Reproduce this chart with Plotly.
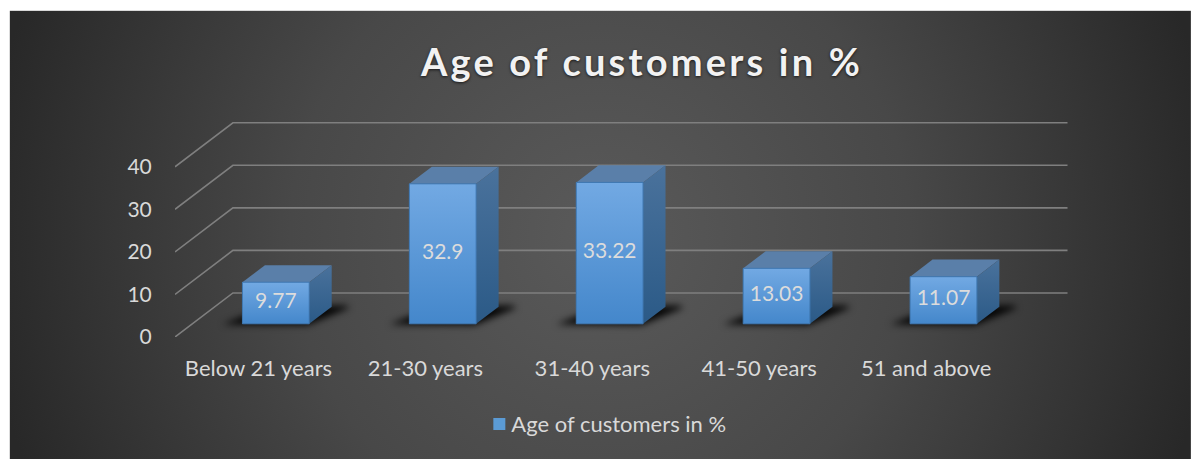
import base64
import plotly.graph_objects as go

# Chart data
categories = ["Below 21 years", "21-30 years", "31-40 years", "41-50 years", "51 and above"]
values = [9.77, 32.9, 33.22, 13.03, 11.07]
value_labels = ["9.77", "32.9", "33.22", "13.03", "11.07"]
y_ticks = [0, 10, 20, 30, 40]
series_name = "Age of customers in %"

# Oblique projection: how far a full floor depth moves a point, in axis units
DEPTH_X = 0.347
DEPTH_Y = 10.35
BAR_HALF = 0.2
BAR_FRONT = 0.30
BAR_BACK = 0.688

FONT = "Lato, 'Open Sans', sans-serif"
TEXT = "#d9d9d9"
W, H = 1191, 459
# The plot area also holds the receding wall, hence the extended axis ranges
X_RANGE = [-0.5, 4.85]
Y_RANGE = [0, 51]
LEFT, RIGHT, TOP, BOTTOM = 174.5, 1068, 120.25, 337


def project(x, v, d):
    return x + d * DEPTH_X, v + d * DEPTH_Y


def polygon(points, line=None, **kw):
    pts = [project(*p) for p in points] + [project(*points[0])]
    return go.Scatter(
        x=[p[0] for p in pts], y=[p[1] for p in pts], mode="lines",
        line=line or dict(width=0), fill="toself", cliponaxis=False,
        showlegend=False, hoverinfo="skip", **kw,
    )


fig = go.Figure()

# Front faces, carrying the series in the legend
fig.add_trace(go.Bar(
    x=[i + BAR_FRONT * DEPTH_X for i in range(len(values))],
    y=values,
    base=[BAR_FRONT * DEPTH_Y] * len(values),
    width=BAR_HALF * 2,
    name=series_name,
    marker=dict(color="#5b9bd5", line=dict(width=0)),
    cliponaxis=False,
    hoverinfo="skip",
))

# Wall and side gridlines
for t in y_ticks:
    a = project(-0.5, t, 0)
    b = project(-0.5, t, 1)
    c = project(4.5, t, 1)
    fig.add_trace(go.Scatter(
        x=[a[0], b[0], c[0]], y=[a[1], b[1], c[1]], mode="lines",
        line=dict(color="#7f7f7f", width=1.6), cliponaxis=False,
        showlegend=False, hoverinfo="skip",
    ))

# Floor shadows; the page script below softens their edges
for i in range(len(values)):
    l, r = i - BAR_HALF, i + BAR_HALF
    fig.add_trace(polygon(
        [(l - 0.115, 0, BAR_FRONT - 0.01),
         (r, 0, BAR_FRONT - 0.03),
         (r + 0.115, 0, BAR_BACK - 0.02),
         (r + 0.07, 0, BAR_BACK + 0.03),
         (l + 0.02, 0, BAR_BACK),
         (l - 0.055, 0, BAR_FRONT + 0.16)],
        fillcolor="rgba(0,0,0,0.95)",
    ))

# Three visible faces of each box
for i, v in enumerate(values):
    l, r = i - BAR_HALF, i + BAR_HALF
    fig.add_trace(polygon(
        [(l, v, BAR_FRONT), (r, v, BAR_FRONT), (r, v, BAR_BACK), (l, v, BAR_BACK)],
        fillcolor="#5a7fa9",
    ))
    fig.add_trace(polygon(
        [(r, 0, BAR_FRONT), (r, v, BAR_FRONT), (r, v, BAR_BACK), (r, 0, BAR_BACK)],
        fillgradient=dict(type="vertical",
                          colorscale=[[0, "#2b5a87"], [1, "#4a729c"]]),
    ))
    fig.add_trace(polygon(
        [(l, 0, BAR_FRONT), (r, 0, BAR_FRONT), (r, v, BAR_FRONT), (l, v, BAR_FRONT)],
        line=dict(color="#3f77b0", width=1),
        fillgradient=dict(type="vertical",
                          colorscale=[[0, "#4487cb"], [1, "#72a9e3"]]),
    ))

# Value labels at the middle of each front face
fig.add_trace(go.Scatter(
    x=[i + BAR_FRONT * DEPTH_X for i in range(len(values))],
    y=[BAR_FRONT * DEPTH_Y + v / 2 for v in values],
    mode="text", text=value_labels,
    textfont=dict(family=FONT, size=21, color="#dcdcdc"),
    textposition="middle center", cliponaxis=False,
    showlegend=False, hoverinfo="skip",
))

# Dark radial backdrop below the plot
bw, bh = W - 9, H - 11
svg = (
    f'<svg xmlns="http://www.w3.org/2000/svg" width="{bw}" height="{bh}" '
    f'viewBox="0 0 {bw} {bh}"><defs><radialGradient id="g" gradientUnits="userSpaceOnUse" '
    f'cx="{bw * 0.5}" cy="{bh * 0.5}" r="620">'
    '<stop offset="0" stop-color="#5a5a5a"/><stop offset="0.5" stop-color="#484848"/>'
    '<stop offset="1" stop-color="#282828"/></radialGradient></defs>'
    f'<rect width="{bw}" height="{bh}" fill="url(#g)"/></svg>'
)
backdrop = "data:image/svg+xml;base64," + base64.b64encode(svg.encode()).decode()
plot_w, plot_h = RIGHT - LEFT, BOTTOM - TOP

fig.update_layout(
    width=W, height=H, autosize=False,
    margin=dict(l=LEFT, r=W - RIGHT, t=TOP, b=H - BOTTOM, pad=0),
    paper_bgcolor="white", plot_bgcolor="rgba(0,0,0,0)",
    font=dict(family=FONT, color=TEXT, size=20),
    title=dict(
        text=series_name, x=642 / W, xanchor="center", y=1 - 63 / H, yanchor="middle",
        font=dict(family=FONT, size=38, color="#f2f2f2", weight=700,
                  shadow="0px 1px 3px rgba(0,0,0,0.7)"),
    ),
    images=[dict(
        source=backdrop, xref="paper", yref="paper", layer="below",
        x=(9 - LEFT) / plot_w, y=(BOTTOM - 11) / plot_h,
        sizex=bw / plot_w, sizey=bh / plot_h,
        xanchor="left", yanchor="top", sizing="stretch",
    )],
    xaxis=dict(
        range=X_RANGE, tickvals=list(range(len(categories))), ticktext=categories,
        showgrid=False, zeroline=False, showline=False,
        ticks="outside", ticklen=12, tickcolor="rgba(0,0,0,0)",
        tickfont=dict(family=FONT, size=22, color=TEXT),
    ),
    yaxis=dict(
        range=Y_RANGE, tickvals=y_ticks, showgrid=False, zeroline=False, showline=False,
        ticks="outside", ticklen=18, tickcolor="rgba(0,0,0,0)",
        tickfont=dict(family=FONT, size=21, color=TEXT),
    ),
    legend=dict(
        orientation="h", x=(471 - LEFT) / plot_w, xanchor="left",
        y=(BOTTOM - 424) / plot_h, yanchor="middle",
        bgcolor="rgba(0,0,0,0)", font=dict(family=FONT, size=22, color=TEXT),
    ),
    bargap=0,
)

# Heading tracking, legend swatch spacing, and blur on the five shadow traces
page_tweaks = (
    "document.querySelector('.gtitle').style.letterSpacing='3.2px';"
    "document.querySelector('.legend .legendsymbols').setAttribute('transform','translate(8,0)');"
    "var t=document.querySelectorAll('.scatterlayer .trace');"
    "for(var i=5;i<10;i++){t[i].style.filter='blur(3.5px)';}"
)
fig.write_html("out.html", post_script=page_tweaks)
